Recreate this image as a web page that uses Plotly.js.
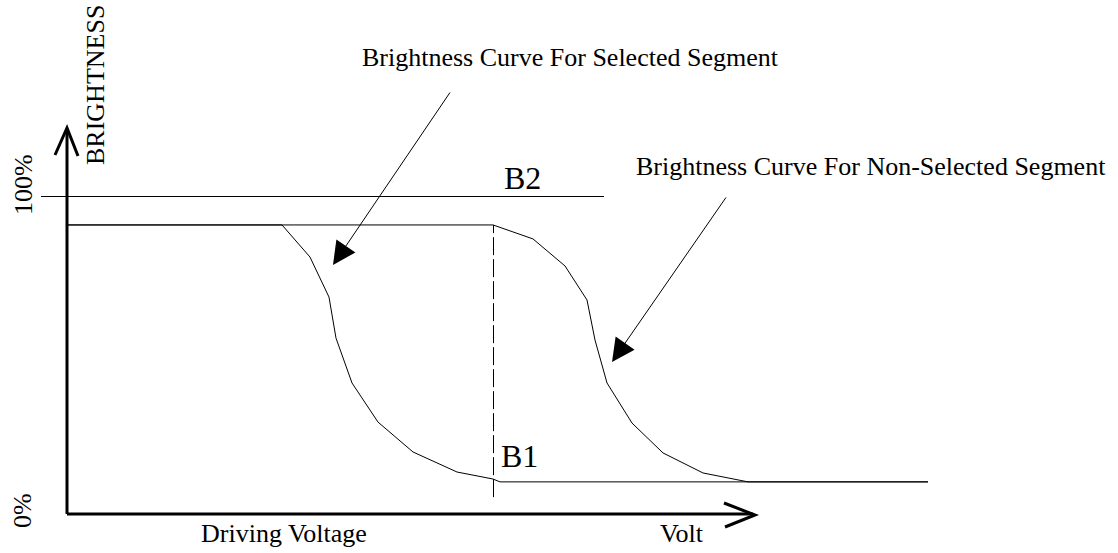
<!DOCTYPE html>
<html>
<head>
<meta charset="utf-8">
<script src="https://cdn.plot.ly/plotly-3.0.1.min.js"></script>
<style>
  html, body { margin: 0; padding: 0; background: #ffffff; }
  #chart { width: 1118px; height: 553px; }
</style>
</head>
<body>
<div id="chart"></div>
<script>
// ---- Data (driving voltage in arbitrary units, brightness in %) ----
var selectedVoltage    = [0, 2.15, 2.43, 2.62, 2.69, 2.85, 3.11, 3.46, 3.90, 4.26, 4.33, 8.61];
var selectedBrightness = [90.9, 90.9, 80.8, 68.2, 55.3, 41.2, 28.9, 19.5, 13.2, 11.0, 10.1, 10.1];

var nonSelectedVoltage    = [0, 4.26, 4.66, 4.98, 5.20, 5.28, 5.40, 5.65, 5.96, 6.36, 6.81, 8.61];
var nonSelectedBrightness = [90.9, 90.9, 86.5, 78.0, 67.3, 54.7, 41.2, 28.6, 19.2, 12.9, 10.1, 10.1];

var fullBrightness = 100;          // B2 level
var maxLevel = 90.9;               // plateau
var b1Voltage = 4.265;             // dashed marker
var b1Bottom = 5.3;

var yTickLabels = ['0%', '100%'];
var labels = {
  yTitle: 'BRIGHTNESS',
  xTitle: 'Driving Voltage',
  xUnit: 'Volt',
  b1: 'B1',
  b2: 'B2',
  sel: 'Brightness Curve For Selected Segment',
  nonSel: 'Brightness Curve For Non-Selected Segment'
};

// ---- helpers for placing decorations (pixel -> axis units) ----
function X(px) { return (px - 67) / 100; }
function Y(py) { return (514 - py) / 3.18; }

var FONT = '"Liberation Serif", "Times New Roman", serif';

var traces = [
  {
    x: selectedVoltage, y: selectedBrightness, mode: 'lines', type: 'scatter',
    line: { color: '#000', width: 1 }, hoverinfo: 'skip', showlegend: false
  },
  {
    x: nonSelectedVoltage, y: nonSelectedBrightness, mode: 'lines', type: 'scatter',
    line: { color: '#000', width: 1 }, hoverinfo: 'skip', showlegend: false
  }
];

var shapes = [
  // 100% line
  { type: 'line', x0: X(41), x1: X(604), y0: Y(196.5), y1: Y(196.5),
    line: { color: '#000', width: 1 } },
  // dashed B1 marker
  { type: 'line', x0: b1Voltage, x1: b1Voltage, y0: b1Bottom, y1: maxLevel,
    line: { color: '#000', width: 1, dash: '18px,4px' } },
  // y axis
  { type: 'line', x0: 0, x1: 0, y0: 0, y1: Y(129), line: { color: '#000', width: 3 } },
  { type: 'path', path: 'M' + X(55) + ',' + Y(155) + ' L' + X(67) + ',' + Y(128) + ' L' + X(78) + ',' + Y(156),
    line: { color: '#000', width: 3 } },
  // x axis
  { type: 'line', x0: 0, x1: X(753), y0: 0, y1: 0, line: { color: '#000', width: 3 } },
  { type: 'path', path: 'M' + X(724) + ',' + Y(503) + ' L' + X(755) + ',' + Y(515) + ' L' + X(725) + ',' + Y(527),
    line: { color: '#000', width: 3 } }
];

function txt(text, px, py, size, angle) {
  return { text: text, x: X(px), y: Y(py), xref: 'x', yref: 'y', showarrow: false,
           xanchor: 'center', yanchor: 'middle', textangle: angle || 0,
           font: { family: FONT, size: size, color: '#000' } };
}
function arrow(tipPx, tipPy, tailPx, tailPy) {
  return { text: '', x: X(tipPx), y: Y(tipPy), ax: X(tailPx), ay: Y(tailPy),
           xref: 'x', yref: 'y', axref: 'x', ayref: 'y', showarrow: true,
           arrowhead: 2, arrowsize: 4.6, arrowwidth: 1, arrowcolor: '#000', standoff: 0 };
}

var annotations = [
  txt(labels.yTitle, 95, 85, 26, -90),
  txt(yTickLabels[1], 23, 185, 26, -90),
  txt(yTickLabels[0], 22, 511, 26, -90),
  txt(labels.xTitle, 284, 533, 26),
  txt(labels.xUnit, 682, 533, 26),
  txt(labels.b2, 522, 178, 32),
  txt(labels.b1, 519, 456, 32),
  txt(labels.sel, 570, 57, 26),
  txt(labels.nonSel, 871, 166, 26),
  arrow(333, 265, 451, 91),
  arrow(612, 362, 727, 196)
];

var layout = {
  width: 1118, height: 553,
  margin: { l: 0, r: 0, t: 0, b: 0, pad: 0 },
  paper_bgcolor: '#fff', plot_bgcolor: '#fff',
  font: { family: FONT },
  xaxis: { range: [X(0), X(1118)], visible: false, fixedrange: true },
  yaxis: { range: [Y(553), Y(0)], visible: false, fixedrange: true },
  shapes: shapes,
  annotations: annotations,
  showlegend: false
};

Plotly.newPlot('chart', traces, layout, { staticPlot: true, displayModeBar: false });
</script>
</body>
</html>
